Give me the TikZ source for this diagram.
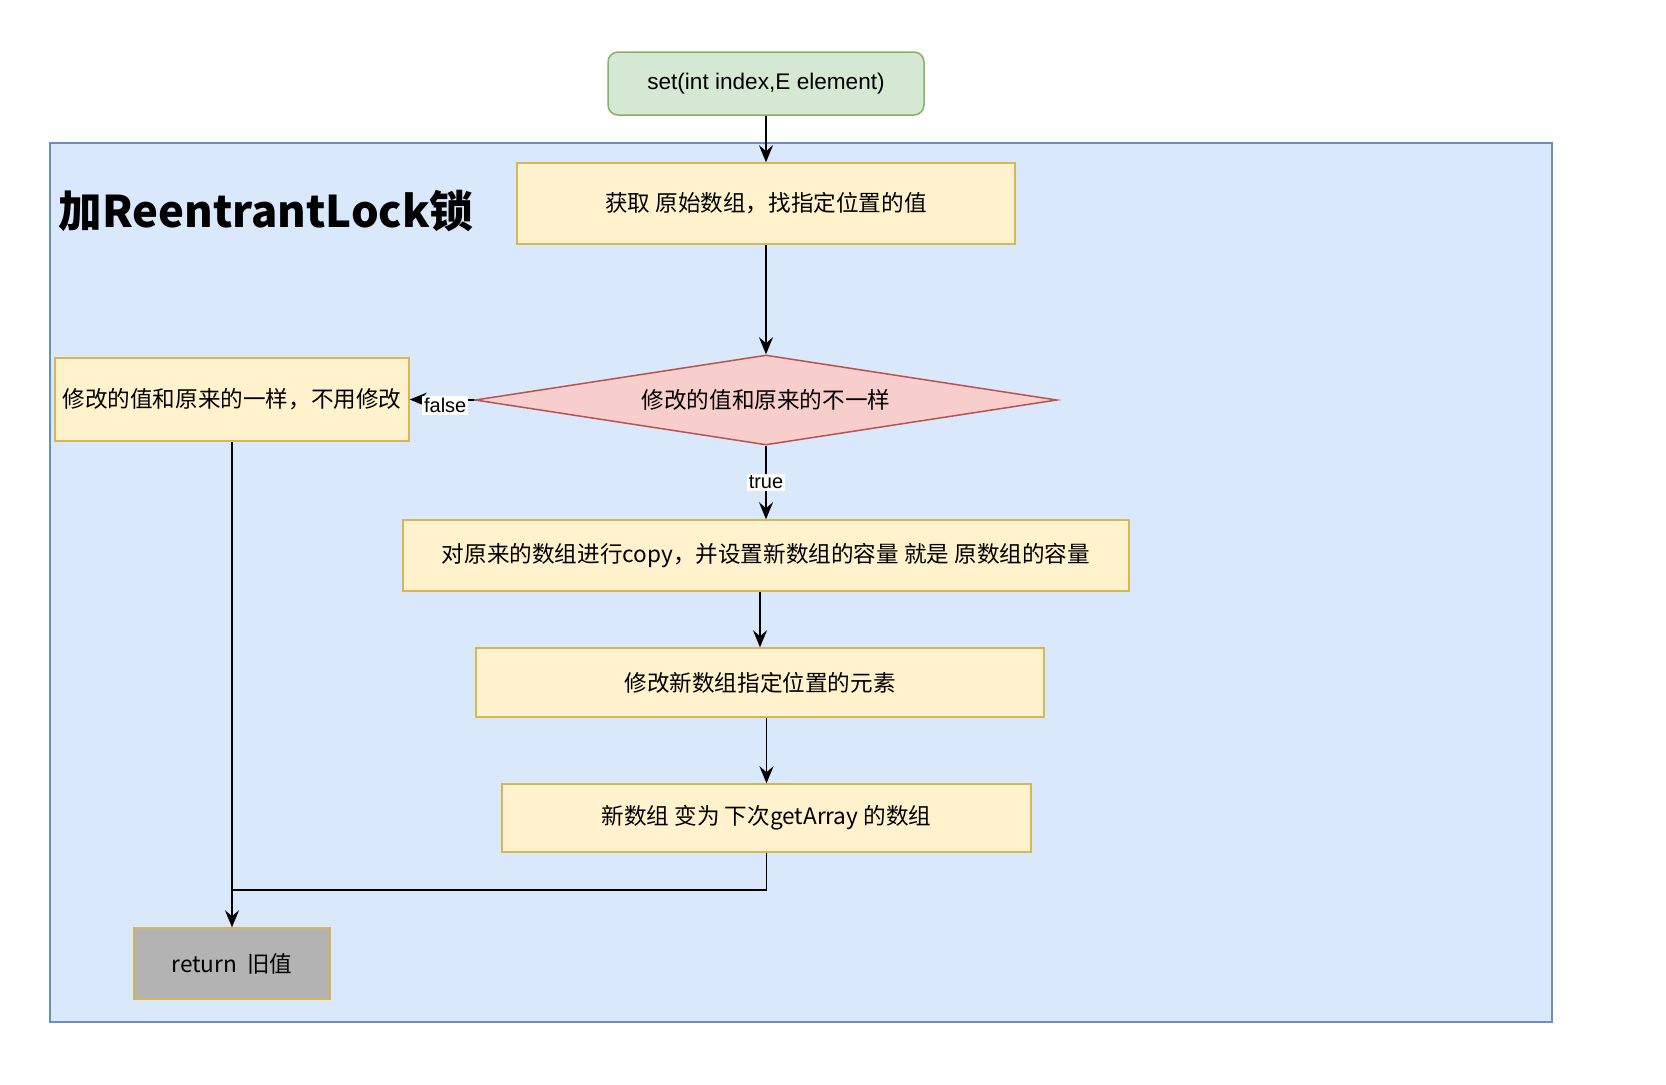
\documentclass[tikz,border=0pt]{standalone}
\usepackage{fontspec}
\setmainfont{Noto Sans CJK SC}
\newfontfamily\latin{Liberation Sans}
\usepackage{tikz}
\usetikzlibrary{arrows.meta,shapes.geometric,positioning}
\definecolor{lockfill}{RGB}{218,232,252}
\definecolor{lockline}{RGB}{108,142,191}
\definecolor{stepfill}{RGB}{255,242,204}
\definecolor{stepline}{RGB}{214,182,86}
\definecolor{startfill}{RGB}{213,232,212}
\definecolor{startline}{RGB}{130,179,102}
\definecolor{testfill}{RGB}{248,206,204}
\definecolor{testline}{RGB}{184,84,80}
\definecolor{retfill}{RGB}{179,179,179}

\begin{document}
\begin{tikzpicture}[x=0.5pt,y=-0.5pt,
	every node/.style={font=\fontsize{11.3}{13}\selectfont},
	stepbox/.style={draw=stepline,fill=stepfill,line width=0.75pt,inner sep=0pt},
	flow/.style={-{Stealth[length=8.5pt,width=7pt,inset=3pt]},line width=0.8pt},
	tag/.style={fill=white,inner sep=1pt,font=\latin\fontsize{10}{12}\selectfont}]
	\useasboundingbox (0,0) rectangle (1666,1084);
	\draw[draw=lockline,fill=lockfill,line width=1pt] (50,143) rectangle (1552,1022);
	\node[anchor=west,inner sep=0pt,font=\bfseries\fontsize{21.8}{24}\selectfont] (title) at (58,211) {加ReentrantLock锁};
	
	\node[draw=startline,fill=startfill,rounded corners=5pt,line width=0.75pt,minimum width=158pt,minimum height=31.5pt,font=\latin\fontsize{11.3}{13}\selectfont] (start) at (766,83.5) {set(int index,E element)};
	\node[stepbox,minimum width=249pt,minimum height=40.5pt] (get) at (766,203.5) {获取 原始数组，找指定位置的值};
	\node[diamond,draw=testline,fill=testfill,line width=0.75pt,inner sep=0pt,aspect=6.47,minimum width=291pt,minimum height=45pt] (diff) at (766,400) {修改的值和原来的不一样};
	\node[stepbox,minimum width=177pt,minimum height=41.5pt] (same) at (232,399.5) {修改的值和原来的一样，不用修改};
	\node[stepbox,minimum width=363pt,minimum height=35.5pt] (copy) at (766,555.5) {对原来的数组进行copy，并设置新数组的容量 就是 原数组的容量};
	\node[stepbox,minimum width=284pt,minimum height=34.5pt] (newset) at (760,682.5) {修改新数组指定位置的元素};
	\node[stepbox,minimum width=264.5pt,minimum height=34pt] (swap) at (766.5,818) {新数组 变为 下次getArray 的数组};
	\node[stepbox,fill=retfill,minimum width=98pt,minimum height=35.5pt] (ret) at (232,963.5) {return~ 旧值};
	\coordinate (join) at (232,890);
	
	\draw[flow] (start) -- (get);
	\draw[flow] (get) -- (diff);
	\draw[flow] (diff.west) -- node[tag,pos=0.45,yshift=-3pt]{false} (same.east);
	\draw[flow] (diff.south) -- node[tag,pos=0.5]{true} (copy.north);
	\draw[flow] (copy.south -| newset.north) -- (newset.north);
	\draw[flow] (newset.south -| swap.north) -- (swap.north);
	\draw[line width=0.8pt] (swap.south) |- (join);
	\draw[flow] (same.south) -- (ret.north);
\end{tikzpicture}
\end{document}
